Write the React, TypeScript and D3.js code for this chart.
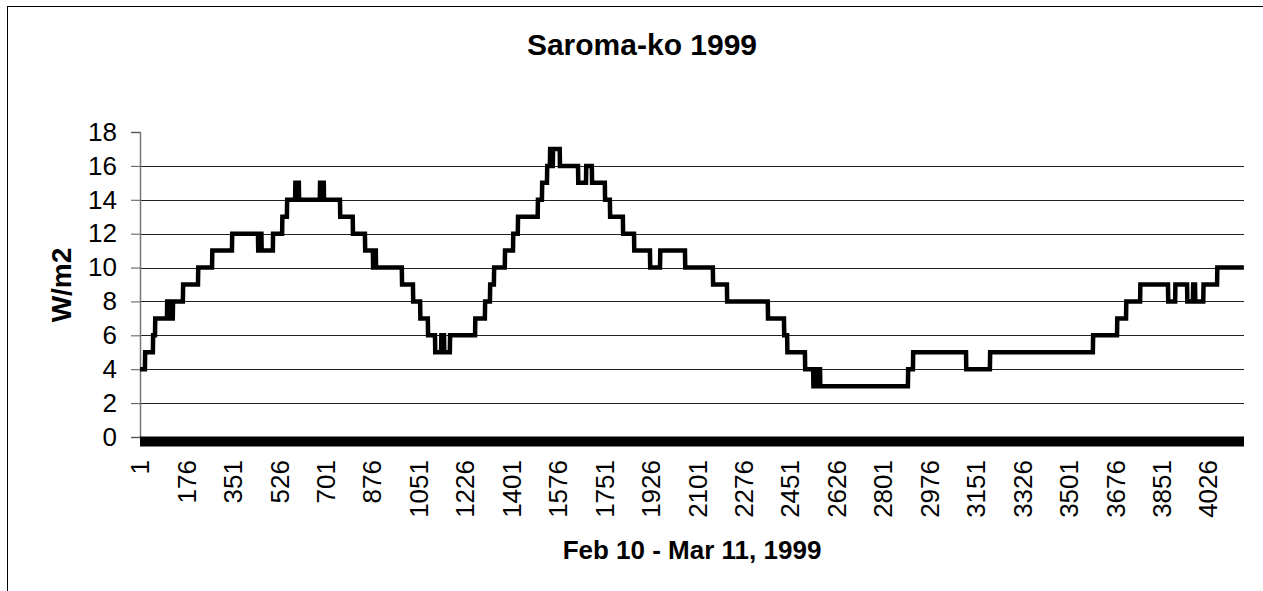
import React, { useEffect, useRef } from "react";
import * as d3 from "d3";

// 10-minute readings, Feb 10 - Mar 11
const pointCount = 4160;

// the series is a step function: index where each level starts, and the level
const stepStart = [
  1, 20, 50, 58, 103, 114, 125, 163, 220, 273, 348, 446, 454, 459, 502, 537, 555,
  586, 591, 595, 600, 679, 694, 755, 803, 849, 879, 884, 890, 988, 1030, 1057,
  1086, 1113, 1136, 1147, 1169, 1264, 1301, 1320, 1335, 1376, 1407, 1425, 1500,
  1516, 1535, 1546, 1553, 1557, 1583, 1652, 1682, 1704, 1753, 1772, 1821, 1863,
  1923, 1961, 2055, 2160, 2213, 2367, 2428, 2440, 2507, 2538, 2552, 2564, 2895,
  2914, 3114, 3204, 3592, 3683, 3717, 3770, 3875, 3902, 3947, 3969, 3977, 4008, 4060,
];
const stepValue = [
  4, 5, 6, 7, 8, 7, 8, 9, 10, 11, 12, 11, 12, 11, 12, 13, 14,
  15, 14, 15, 14, 15, 14, 13, 12, 11, 10, 11, 10, 9, 8, 7,
  6, 5, 6, 5, 6, 7, 8, 9, 10, 11, 12, 13, 14,
  15, 16, 17, 16, 17, 16, 15, 16, 15, 14, 13, 12, 11,
  10, 11, 10, 9, 8, 7, 6, 5, 4, 3, 4, 3, 4,
  5, 4, 5, 6, 7, 8, 9, 8, 9, 8, 9, 8, 9, 10,
];

const yTicks = [0, 2, 4, 6, 8, 10, 12, 14, 16, 18];
const xTickEvery = 175;

const title = "Saroma-ko 1999";
const xTitle = "Feb 10 - Mar 11, 1999";
const yTitle = "W/m2";

const font = "'Liberation Sans', Arial, sans-serif";

const App = () => {
  const svgRef = useRef(null);

  useEffect(() => {
    const w = 1263;
    const h = 591;
    const left = 140, right = 1244, top = 132, bottom = 437;

    const svg = d3.select(svgRef.current);
    svg.selectAll("*").remove();

    // expand the runs into one value per reading
    const data = d3.range(1, pointCount + 1).map((i) => {
      const k = d3.bisectRight(stepStart, i) - 1;
      return { i, v: stepValue[k] };
    });

    const x = d3.scaleLinear().domain([0.5, pointCount + 0.5]).range([left, right]);
    const y = d3.scaleLinear().domain([0, 18]).range([bottom, top]);

    // chart area border
    svg.append("rect")
      .attr("x", 7.5).attr("y", 6.5)
      .attr("width", 1275).attr("height", 620)
      .attr("fill", "white").attr("stroke", "black").attr("stroke-width", 1);

    svg.append("text")
      .attr("x", 642).attr("y", 55)
      .attr("text-anchor", "middle")
      .style("font", `bold 30px ${font}`)
      .text(title);

    // gridlines
    svg.append("g")
      .selectAll("line")
      .data(yTicks.filter((t) => t > 0 && t < 18))
      .join("line")
      .attr("x1", left).attr("x2", right)
      .attr("y1", (d) => Math.round(y(d)) + 0.5).attr("y2", (d) => Math.round(y(d)) + 0.5)
      .attr("stroke", "#222").attr("stroke-width", 1);

    // y axis
    const yAxis = svg.append("g")
      .attr("transform", `translate(${left},0)`)
      .call(d3.axisLeft(y).tickValues(yTicks).tickSize(9).tickPadding(14));
    yAxis.select(".domain").attr("stroke", "#777").attr("stroke-width", 1.5);
    yAxis.selectAll(".tick line").attr("stroke", "#555");
    yAxis.selectAll(".tick text")
      .style("font", `26px ${font}`)
      .attr("fill", "black");

    // category axis: thousands of tick marks merge into a solid band
    svg.append("line")
      .attr("x1", x(0.5)).attr("x2", x(pointCount + 0.5))
      .attr("y1", y(0) + 4.5).attr("y2", y(0) + 4.5)
      .attr("stroke", "black").attr("stroke-width", 10);

    const xLabels = d3.range(1, pointCount + 1, xTickEvery);
    svg.append("g")
      .selectAll("text")
      .data(xLabels)
      .join("text")
      .attr("transform", (d) => `translate(${x(d)},460) rotate(-90)`)
      .attr("text-anchor", "end")
      .attr("dy", "0.35em")
      .style("font", `26px ${font}`)
      .text((d) => d);

    // series
    const line = d3.line()
      .x((d) => x(d.i))
      .y((d) => y(d.v));
    svg.append("path")
      .datum(data)
      .attr("d", line)
      .attr("fill", "none")
      .attr("stroke", "black")
      .attr("stroke-width", 4.5)
      .attr("stroke-linejoin", "miter");

    // axis titles
    svg.append("text")
      .attr("x", (left + right) / 2).attr("y", 559)
      .attr("text-anchor", "middle")
      .style("font", `bold 26px ${font}`)
      .text(xTitle);

    svg.append("text")
      .attr("transform", "translate(71,285) rotate(-90)")
      .attr("text-anchor", "middle")
      .style("font", `bold 28px ${font}`)
      .text(yTitle);

    svg.attr("width", w).attr("height", h);
  }, []);

  return (
    <svg
      ref={svgRef}
      width={1263}
      height={591}
      style={{ position: "absolute", left: 0, top: 0, background: "white" }}
    ></svg>
  );
};

export default App;
